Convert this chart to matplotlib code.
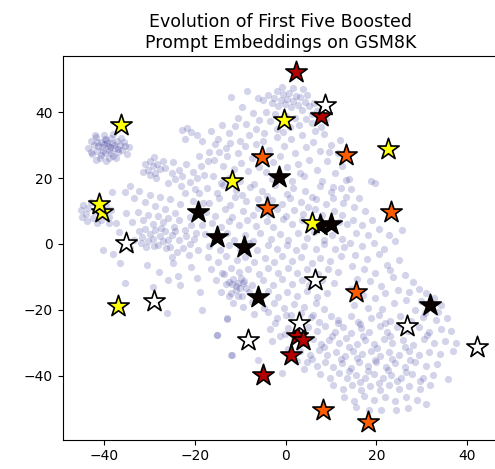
import numpy as np
import matplotlib
matplotlib.use("Agg")
import matplotlib.pyplot as plt

# ---------------- background embedding cloud ----------------
bg_top_left = [(-43.5,29.0),(-43.0,31.2),(-42.6,27.4),(-42.2,30.1),(-41.8,32.4),(-41.5,28.3),(-41.0,26.1),(-40.8,30.9),(-40.5,29.4),(-40.1,33.1),(-39.9,27.5),(-39.6,31.6),(-39.2,29.9),(-38.9,28.4),(-38.6,32.2),(-38.3,30.6),(-38.0,26.8),(-37.6,29.1),(-37.2,31.4),(-36.9,27.9),(-36.5,30.2),(-36.0,28.6),(-35.5,29.8),(-35.0,27.2),(-34.6,29.4),(-41.3,29.6),(-40.2,28.1),(-39.4,30.8),(-38.7,29.3),(-37.9,30.1),(-40.7,27.0),(-39.0,26.2),(-37.3,26.0),(-42.9,28.0),(-41.9,25.6),(-36.2,32.3),(-38.1,33.4),(-39.8,32.0),(-37.0,28.8),(-40.0,30.3),(-41.6,31.0),(-35.7,31.0),(-42.0,33.0),(-38.4,27.6),(-39.5,25.2)]

bg_upper_left = [(-22.9,34.6),(-21.8,35.3),(-20.8,34.0),(-19.6,33.2),(-22.2,31.8),(-18.4,31.2),(-16.4,34.3),(-15.0,31.9),
    (-31.0,24.3),(-30.4,22.5),(-29.8,25.1),(-29.3,23.6),(-28.8,21.6),(-28.3,24.4),(-27.6,22.9),(-27.1,25.3),(-26.6,23.1),(-30.0,20.9),(-28.6,20.0),(-31.4,22.0),(-29.0,26.3),
    (-25.1,21.6),(-24.3,19.6),(-23.6,22.4),(-22.8,20.5),(-21.9,24.3),(-21.0,18.8),(-20.4,21.9),(-19.5,19.9),(-18.6,23.6),(-17.9,20.8),(-23.0,17.5),(-20.0,16.8),(-24.8,24.9),(-26.0,18.6),(-19.0,26.6),(-17.2,25.2)]

bg_top_center = [(-3.8,45.1),(-3.1,42.8),(-2.6,44.3),(-2.0,46.5),(-1.6,41.9),(-1.1,43.7),(-0.6,45.6),(-0.2,42.6),(0.3,44.1),(0.8,46.0),(1.2,41.5),(1.7,43.3),(2.2,45.0),(2.7,42.1),(3.2,44.6),(3.7,40.8),(4.2,43.0),(4.7,45.3),(5.2,41.8),(5.8,39.6),(6.3,42.7),(6.9,40.5),(7.4,38.3),(-4.4,40.2),(-2.3,39.5),(0.0,39.0),(2.0,38.4),(4.5,38.0),(-0.9,47.8),(1.6,47.5),(3.9,47.0),(-5.0,43.6),(5.9,36.6),(3.0,36.0),(-3.5,37.2),(1.0,35.5),(7.7,35.4),(-1.8,35.0),
    (-14.0,36.1),(-12.5,33.8),(-11.2,35.9),(-10.5,38.2),(-9.7,41.5),(-8.8,36.4),(-8.0,33.0),(-7.3,39.9),(-6.5,35.0),(-5.9,37.8),(-12.0,44.5),(-8.5,46.6),(-6.0,44.2),(-10.0,31.4),(-15.5,30.3),(-13.1,29.1)]

bg_center_band = [(-16.8,28.0),(-15.8,25.4),(-14.8,27.9),(-13.9,23.8),(-13.0,26.6),(-12.2,30.6),(-11.3,22.9),(-10.6,27.5),(-9.8,24.6),(-9.0,29.7),(-8.2,22.1),(-7.4,26.0),(-6.6,30.5),(-5.9,23.4),(-5.0,31.2),(-4.3,21.9),(-3.6,28.6),(-2.8,24.8),(-2.0,32.4),(-1.2,26.6),(-0.4,29.9),(0.4,23.4),(1.2,31.9),(2.0,27.6),(2.8,24.2),(3.6,33.2),(4.4,29.3),(5.2,25.6),(6.0,31.0),(6.8,22.6),(7.6,28.2),(8.4,33.5),(9.2,25.2),(10.0,30.1),(10.8,21.4),(11.6,27.6),(12.4,23.6),(13.2,19.5),(-16.0,20.5),(-14.2,18.6),(-12.6,20.1),(-10.0,19.0),(-7.0,18.2),(-3.0,19.6),(1.5,19.0),(4.0,20.7),(8.0,19.1),(10.5,17.3),(12.0,31.6),(-0.5,34.0),(-4.7,33.8),(6.5,34.4),(8.9,37.9),(9.5,28.0),(3.1,21.6)]

bg_left = [(-45.2,10.3),(-44.6,11.9),(-44.0,9.1),(-43.5,10.8),(-43.0,12.6),(-42.5,8.0),(-42.0,10.1),(-41.4,11.3),(-40.8,7.3),(-40.2,9.0),(-39.6,11.6),(-39.0,8.3),(-38.4,10.2),(-43.8,7.0),(-41.5,6.3),(-38.2,15.9),(-38.9,6.4),(-45.0,8.2),
    (-35.5,15.7),(-34.3,17.6),(-33.4,13.8),(-32.3,16.1),(-31.1,12.6),(-30.0,15.0),(-28.9,11.6),(-27.8,14.3),(-26.7,10.5),(-25.6,13.6),(-24.5,9.3),(-23.4,12.2),(-22.3,15.6),(-21.2,8.1),(-20.4,13.1),(-19.0,15.4),(-18.2,12.3),(-35.1,9.4),(-33.9,6.6),(-32.6,9.8),(-31.5,7.2),(-30.4,8.9),(-29.3,6.1),(-28.2,8.4),(-27.0,6.6),(-25.9,7.8),(-24.7,5.2),(-23.6,7.4),(-22.2,4.2),(-20.9,5.8),(-19.8,3.3),(-18.4,5.6),
    (-32.3,3.9),(-31.6,2.1),(-31.0,4.6),(-30.4,0.8),(-29.9,3.1),(-29.3,1.6),(-28.8,4.3),(-28.2,-0.3),(-27.7,2.5),(-27.1,0.9),(-26.6,3.8),(-26.0,1.3),(-25.4,-0.8),(-25.0,2.8),(-32.0,0.2),(-30.8,-1.0),(-29.0,-0.6),(-27.4,4.9),(-26.3,-1.3),(-24.4,4.0),(-23.6,1.2),(-22.7,-1.2),(-21.9,2.3),(-21.0,-0.1),(-20.2,1.5),(-19.3,-1.8),(-24.0,-2.5),(-33.5,1.2),(-34.3,-1.1),(-36.8,3.5),(-37.5,6.2),
    (-40.2,-1.8),(-36.5,-5.9),(-35.4,-11.8),(-30.6,-6.4),(-29.2,-13.0),(-26.2,-21.1),(-24.8,-5.9),(-23.7,-9.9),(-23.3,-12.5),(-19.6,-10.4),(-18.9,-14.5),(-18.5,-20.1),(-15.2,-27.7),(-13.0,-22.6),(-11.9,-33.7),(-21.4,-3.3),(-25.1,-3.9),(-28.0,-8.5),(-26.0,-11.0),(-20.8,-7.0),(-38.0,-3.0)]

bg_center = [(-17.3,16.9),(-15.2,15.6),(-13.8,17.8),(-11.0,16.3),(-9.6,14.9),(-7.9,17.4),(-5.2,16.0),(-4.1,14.6),(-2.4,17.9),(0.3,15.2),(1.6,17.0),(4.2,16.1),(5.9,14.4),(7.6,17.5),(9.9,15.8),(12.2,16.9),(13.4,14.2),
    (-16.9,12.4),(-14.7,13.9),(-12.3,11.8),(-11.1,14.2),(-8.7,12.9),(-6.2,13.6),(-5.1,11.4),(-3.0,13.2),(-0.9,12.0),(0.9,14.0),(3.3,12.7),(5.0,11.3),(6.7,13.5),(8.8,12.1),(10.4,13.9),(12.6,12.5),
    (-17.6,9.8),(-15.5,8.6),(-13.4,10.6),(-11.9,8.3),(-9.5,10.1),(-7.3,8.9),(-6.0,11.0),(-3.7,9.2),(-2.0,10.7),(0.1,8.4),(1.8,10.2),(3.9,9.0),(6.4,10.5),(8.1,8.7),(10.7,10.0),(12.5,8.8),
    (-16.3,6.5),(-14.2,5.1),(-12.6,7.0),(-10.3,5.7),(-8.6,7.3),(-6.5,5.5),(-4.2,6.9),(-2.7,5.2),(-0.6,7.6),(1.4,6.0),(3.6,7.2),(5.1,5.4),(7.9,6.8),(9.6,5.1),(11.8,6.6),(13.6,5.9),
    (-17.8,2.9),(-15.9,1.7),(-13.0,3.3),(-11.4,1.2),(-9.0,2.6),(-7.1,1.0),(-5.6,3.4),(-3.3,1.6),(-1.2,3.0),(0.6,1.1),(2.7,3.2),(4.6,1.8),(6.2,3.6),(8.5,1.3),(10.3,2.8),(12.4,1.5),
    (-16.8,-0.6),(-14.5,-1.8),(-12.4,-0.3),(-10.1,-1.5),(-8.0,0.2),(-6.3,-1.9),(-4.0,-0.4),(-1.9,-1.6),(0.2,-0.2),(2.3,-1.9),(4.1,-0.5),(6.6,-1.4),(8.4,-0.1),(10.9,-1.7),(12.8,-0.8),
    (-17.2,-4.1),(-15.0,-5.4),(-13.1,-3.6),(-10.8,-5.0),(-8.9,-3.9),(-6.9,-5.6),(-4.6,-4.2),(-2.5,-5.5),(-0.7,-3.8),(1.5,-5.2),(3.4,-4.0),(5.8,-5.7),(7.5,-4.3),(9.8,-5.1),(12.1,-3.7),
    (-16.5,-7.6),(-14.1,-8.9),(-12.0,-7.2),(-10.2,-8.6),(-8.2,-7.5),(-5.9,-9.0),(-3.8,-7.4),(-1.6,-8.7),(0.5,-7.3),(2.6,-8.8),(4.7,-7.6),(7.2,-9.1),(9.4,-7.5),(11.6,-8.5),
    (-15.3,-11.0),(-13.2,-12.3),(-11.7,-10.6),(-10.6,-12.0),(-9.2,-11.2),(-7.4,-12.6),(-5.0,-11.1),(-2.9,-12.4),(-0.8,-10.8),(1.3,-12.2),(3.5,-11.0),(5.2,-12.6),(8.0,-10.9),(10.6,-12.0),
    (-14.2,-14.6),(-12.4,-15.7),(-11.0,-14.1),(-9.6,-15.9),(-8.1,-14.5),(-6.2,-15.8),(-3.9,-14.3),(-1.7,-16.0),(0.4,-14.7),(2.6,-15.9),(4.8,-14.4),(7.0,-16.1),(9.1,-14.8),
    (-11.6,-18.1),(-9.4,-19.2),(-7.5,-17.8),(-4.8,-19.4),(-2.6,-18.0),(-0.3,-19.6),(1.9,-18.2),(4.1,-19.3),(6.6,-18.0),(8.5,-19.8),
    (-7.0,-21.3),(-3.9,-20.8),(0.0,-21.6),(3.3,-21.0),(6.0,-21.5),
    (-12.5,-11.5),(-11.0,-12.9),(-10.0,-13.5),(-9.3,-11.9),(-12.0,-14.8),(-8.8,-13.4),(-13.5,-9.2),(-10.5,-15.8),(-11.8,-12.1),(-9.9,-10.4)]

bg_right_mid = [(14.5,16.8),(16.2,14.0),(15.0,11.2),(17.5,10.0),(14.8,7.4),(16.8,5.8),(19.0,7.2),(15.5,3.4),(18.2,2.6),(20.5,4.5),(22.8,2.8),(25.6,4.2),(14.2,0.4),(16.9,-0.6),(19.5,0.4),(21.7,-1.6),(24.2,0.8),(15.3,-3.5),(18.0,-4.5),(20.6,-3.0),(14.6,-6.8),(17.3,-7.6),(19.8,-8.8),(22.4,-6.4),(15.8,-10.6),(18.5,-11.4),(21.1,-12.8),(23.6,-10.2),(14.3,-13.8),(17.0,-15.6),(19.6,-16.4),(22.0,-15.0),(24.8,-14.0),(15.1,-18.6),(18.1,-19.4),(21.2,-19.8),(23.9,-18.0),(26.5,-17.0),(18.8,19.2),(19.6,18.4),(13.9,19.7),(23.0,-8.0),(25.0,-4.8),
    (26.3,-9.4),(28.0,-11.5),(29.5,-13.6),(31.0,-15.0),(32.8,-16.4),(34.3,-18.6),(27.2,-14.5),(29.8,-17.2),(33.5,-20.6),(28.5,-20.2),(30.8,-21.0)]

bg_bottom = [(-1.8,-22.6),(1.2,-21.7),(3.0,-23.4),(5.6,-22.1),(7.3,-23.6),(9.9,-21.9),(11.6,-23.2),(14.3,-22.0),(16.0,-23.7),(18.8,-22.4),(20.5,-21.6),(22.9,-23.3),(25.1,-22.0),(27.6,-23.5),(30.2,-22.3),(33.1,-23.0),(35.6,-22.6),
    (0.6,-25.6),(2.8,-26.8),(4.9,-25.2),(6.8,-26.6),(8.7,-25.0),(10.9,-26.9),(12.6,-25.4),(14.5,-27.0),(16.7,-25.5),(18.3,-26.8),(20.9,-25.1),(22.4,-26.7),(24.6,-25.3),(26.9,-26.5),(29.3,-25.4),(31.5,-26.9),(34.2,-25.8),(36.5,-26.4),
    (1.9,-29.0),(4.1,-30.2),(6.0,-28.8),(7.9,-30.4),(9.6,-29.1),(11.8,-30.0),(13.4,-28.7),(15.7,-30.3),(17.6,-29.2),(19.4,-30.5),(21.6,-28.9),(23.5,-30.1),(25.8,-29.3),(28.0,-30.6),(30.4,-29.0),(32.8,-30.2),(35.1,-29.4),(37.6,-30.1),
    (3.2,-32.6),(5.3,-33.8),(7.4,-32.3),(9.1,-33.9),(11.2,-32.8),(13.0,-34.0),(14.9,-32.4),(16.8,-33.6),(18.9,-32.5),(20.7,-34.1),(22.8,-32.7),(24.9,-33.8),(27.1,-32.4),(29.4,-33.9),(31.6,-32.8),(34.0,-33.6),(36.9,-32.6),
    (4.6,-36.0),(6.9,-37.2),(8.6,-35.8),(10.5,-37.4),(12.4,-36.2),(14.3,-37.6),(16.1,-35.9),(18.2,-37.1),(20.0,-36.0),(22.1,-37.5),(24.0,-36.3),(26.3,-37.3),(28.6,-35.9),(30.9,-37.0),(33.4,-36.4),
    (7.5,-39.6),(9.8,-40.8),(11.7,-39.3),(13.6,-40.9),(15.5,-39.7),(17.5,-40.7),(19.4,-39.4),(21.4,-40.9),(23.3,-39.8),(25.5,-40.6),(27.8,-39.5),(30.3,-40.8),(32.5,-39.9),(35.8,-41.2),
    (10.4,-43.0),(12.6,-44.2),(14.7,-42.8),(16.6,-44.3),(18.7,-43.1),(20.8,-44.4),(22.7,-42.9),(24.9,-44.0),(27.3,-43.2),(29.6,-44.1),(31.8,-43.0),
    (12.8,-46.5),(15.1,-47.6),(17.3,-46.2),(19.5,-47.4),(21.8,-46.4),(24.0,-47.7),(26.5,-46.6),(28.9,-47.3),(31.0,-48.5),
    (15.5,-49.6),(18.4,-50.6),(21.1,-50.5),(24.4,-50.4),(27.0,-49.8),
    (10.2,-28.0),(13.9,-31.2),(17.0,-28.1),(20.1,-31.6),(23.0,-27.9),(26.4,-31.4),(12.2,-35.1),(15.8,-34.6),(19.6,-35.4),(23.4,-34.9),(27.5,-35.2),(14.0,-38.5),(18.1,-38.6),(22.5,-38.3),(26.6,-38.8),(11.5,-24.0),(16.4,-24.2),(21.8,-24.1),(27.0,-24.3),(31.2,-27.8),(8.4,-31.2),(5.7,-35.0),(29.6,-41.8),(16.4,-41.9),(20.6,-42.2),(24.6,-41.8),
    (-0.9,-39.2),(-1.3,-28.1),(-3.1,-29.6),(-6.0,-35.2),(-12.1,-33.9),(-15.2,-27.6),(-13.0,-22.8),(0.5,-32.0),(2.5,-35.5),(4.0,-38.0),(-2.4,-24.1),(-3.5,-26.0),(-0.2,-27.4)]

# ---------------- boosted prompt embeddings (stars), one list per round ----------------
round_values = [0.0, 0.25, 0.5, 0.75, 1.0]   # position on the 'hot' colormap
stars_round1 = [(-1.4,20.2),(-19.4,9.6),(-15.1,2.2),(-9.1,-1.0),(-6.0,-16.0),(7.6,5.8),(10.0,6.0),(31.8,-18.5)]
stars_round2 = [(2.2,52.1),(7.9,38.9),(2.4,-27.9),(3.9,-29.1),(1.2,-33.9),(-4.9,-39.7)]
stars_round3 = [(-5.3,26.5),(-4.1,10.9),(13.3,27.1),(23.2,9.8),(15.4,-14.7),(8.3,-50.5),(18.2,-54.2)]
stars_round4 = [(-36.2,36.2),(-40.4,9.6),(-41.2,12.2),(-11.9,19.1),(-0.4,37.7),(22.5,28.9),(5.9,6.5),(-36.9,-18.8)]
stars_round5 = [(8.7,42.2),(-35.1,0.2),(-29.0,-17.3),(-8.4,-29.1),(6.5,-10.9),(3.0,-24.0),(26.7,-24.9),(42.2,-31.4)]
star_rounds = [stars_round1, stars_round2, stars_round3, stars_round4, stars_round5]

title = "Evolution of First Five Boosted\nPrompt Embeddings on GSM8K"

fig = plt.figure(figsize=(4.95, 4.69), dpi=100)
ax = fig.add_axes([62.5/495, 1-439.7/469, (498-62.5)/495, (439.7-56)/469])

bg = np.array(bg_top_left + bg_upper_left + bg_top_center + bg_center_band +
              bg_left + bg_center + bg_right_mid + bg_bottom)
ax.scatter(bg[:, 0], bg[:, 1], s=27, color='#3a3a9e', alpha=0.22, linewidths=0)

cmap = plt.cm.hot
for val, pts in zip(round_values, star_rounds):
    p = np.array(pts)
    ax.scatter(p[:, 0], p[:, 1], marker='*', s=260, color=cmap(val),
               edgecolors='black', linewidths=1.2, zorder=3)

ax.set_xlim(-49.2, (498 - 285.7) / 4.535)
ax.set_ylim(-59.5, 57.1)
ax.set_xticks([-40, -20, 0, 20, 40])
ax.set_yticks([-40, -20, 0, 20, 40])
ax.tick_params(labelsize=10)
ax.set_title(title, fontsize=12.5)

fig.savefig("out.png", dpi=100)
